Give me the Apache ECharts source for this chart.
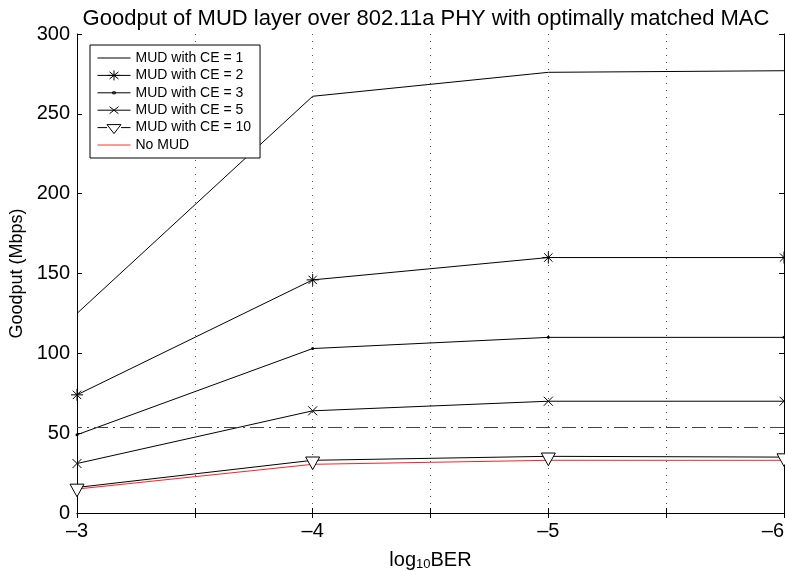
<!DOCTYPE html>
<html>
<head>
	<meta charset="utf-8">
	<title>Goodput of MUD layer</title>
	<script src="https://cdn.jsdelivr.net/npm/echarts@6/dist/echarts.min.js"></script>
	<style>
		html, body { margin: 0; padding: 0; background: #fff; }
		#chart { width: 785px; height: 571px; }
	</style>
</head>
<body>
<div id="chart"></div>
<script>
// log10 BER values (x axis runs -3 -> -6)
var logBer = [-3, -4, -5, -6];
var ce1 = [125, 261, 276, 277];
var ce2 = [74, 146, 160, 160];
var ce3 = [49, 103, 110, 110];
var ce5 = [31, 64, 70, 70];
var ce10 = [16, 33, 35.5, 35];
var noMud = [15, 30.5, 33, 33];
var refLevel = 54;   // dash-dot reference line

var names = ['MUD with CE = 1', 'MUD with CE = 2', 'MUD with CE = 3', 'MUD with CE = 5', 'MUD with CE = 10', 'No MUD'];

var FONT = 'Liberation Sans, Arial, sans-serif';
var starPath = 'path://M0,5 L10,5 M5,0 L5,10 M1.5,1.5 L8.5,8.5 M8.5,1.5 L1.5,8.5';
var crossPath = 'path://M0,0 L10,10 M10,0 L0,10';
var triPath = 'path://M0,0 L10,0 L5,9 Z';

// legend icons: line + marker, the two leading moves fix the box to 26x12
var BOX = 'path://M0,0 M26,12 ';
var legendIcons = [
	BOX + 'M0,6 L26,6',
	BOX + 'M0,6 L26,6 M13,1 L13,11 M8,6 L18,6 M9.5,2.5 L16.5,9.5 M16.5,2.5 L9.5,9.5',
	BOX + 'M0,6 L26,6 M12,5 L14,5 L14,7 L12,7 Z',
	BOX + 'M0,6 L26,6 M9.5,2.5 L16.5,9.5 M16.5,2.5 L9.5,9.5',
	BOX + 'M0,6 L7.5,6 M18.5,6 L26,6 M7.5,3 L18.5,3 L13,12 Z',
	BOX + 'M0,6 L26,6'
];
var legendColors = ['#000', '#000', '#000', '#000', '#000', '#ff3030'];

function pts(arr) {
	return logBer.map(function (x, i) { return [x, arr[i]]; });
}

function mkSeries(name, data, symbol, size, color, extra) {
	var s = {
		name: name,
		type: 'line',
		data: pts(data),
		symbol: symbol,
		symbolSize: size,
		symbolKeepAspect: true,
		showSymbol: symbol !== 'none',
		lineStyle: { color: color, width: 1 },
		itemStyle: { color: 'rgba(0,0,0,0)', borderColor: color, borderWidth: 1 },
		emphasis: { disabled: true },
		animation: false,
		z: 3
	};
	for (var k in extra) s[k] = extra[k];
	return s;
}

var chart = echarts.init(document.getElementById('chart'));

var axisCommon = {
	axisLine: { show: true, lineStyle: { color: '#000', width: 1 } },
	axisTick: { show: true, inside: true, length: 5, lineStyle: { color: '#000' } }
};

var option = {
	backgroundColor: '#fff',
	animation: false,
	title: {
		text: 'Goodput of MUD layer over 802.11a PHY with optimally matched MAC',
		left: 421,
		top: 3,
		textAlign: 'center',
		textStyle: { fontFamily: FONT, fontSize: 22, fontWeight: 'normal', color: '#000' }
	},
	legend: {
		orient: 'vertical',
		left: 90,
		top: 45,
		data: names.map(function (n, i) {
			return {
				name: n,
				icon: legendIcons[i],
				itemStyle: { color: '#fff', borderColor: legendColors[i], borderWidth: 1 }
			};
		}),
		itemWidth: 33,
		itemHeight: 12,
		itemGap: 3.4,
		symbolKeepAspect: false,
		padding: [6, 9, 6, 7],
		backgroundColor: '#fff',
		borderColor: '#000',
		borderWidth: 1,
		textStyle: { fontFamily: FONT, fontSize: 14, color: '#000' }
	},
	grid: { left: 77, right: 1, top: 34, bottom: 58, outerBoundsMode: 'none' },
	xAxis: [
		Object.assign({
			type: 'value', min: -6, max: -3, interval: 0.5, inverse: true,
			position: 'bottom',
			name: '{a|log}{s|10}{a|BER}',
			nameLocation: 'middle',
			nameGap: 36,
			nameTextStyle: {
				rich: {
					a: { fontFamily: FONT, fontSize: 20, color: '#000', lineHeight: 22 },
					s: { fontFamily: FONT, fontSize: 13, color: '#000', verticalAlign: 'bottom', lineHeight: 13, padding: [9, 0, 0, 0] }
				}
			},
			axisLabel: {
				fontFamily: FONT, fontSize: 20, color: '#000', margin: 8,
				alignMinLabel: 'right',
				formatter: function (v) {
					if (Math.abs(v - Math.round(v)) > 1e-6) return '';
					return '\u2013' + Math.abs(v);
				}
			},
			splitLine: { show: true, lineStyle: { color: '#555', type: [1, 6], width: 1 } }
		}, axisCommon),
		Object.assign({
			type: 'value', min: -6, max: -3, interval: 0.5, inverse: true,
			position: 'top',
			axisLabel: { show: false },
			splitLine: { show: false }
		}, axisCommon)
	],
	yAxis: [
		Object.assign({
			type: 'value', min: 0, max: 300, interval: 50,
			name: 'Goodput (Mbps)',
			nameLocation: 'middle',
			nameGap: 51,
			nameTextStyle: { fontFamily: FONT, fontSize: 18, color: '#000' },
			axisLabel: { fontFamily: FONT, fontSize: 20, color: '#000', margin: 7 },
			splitLine: { show: false }
		}, axisCommon),
		Object.assign({
			type: 'value', min: 0, max: 300, interval: 50,
			position: 'right',
			axisLabel: { show: false },
			splitLine: { show: false }
		}, axisCommon)
	],
	series: [
		mkSeries(names[0], ce1, 'none', 0, '#000', {
			markLine: {
				silent: true,
				symbol: 'none',
				label: { show: false },
				lineStyle: { color: '#444', width: 1, type: [14, 5, 2, 5] },
				data: [{ yAxis: refLevel }]
			}
		}),
		mkSeries(names[1], ce2, starPath, 12, '#000'),
		mkSeries(names[2], ce3, 'circle', 3, '#000', { itemStyle: { color: '#000', borderColor: '#000', borderWidth: 0 } }),
		mkSeries(names[3], ce5, crossPath, 9, '#000'),
		mkSeries(names[4], ce10, triPath, 14, '#000', { itemStyle: { color: '#fff', borderColor: '#000', borderWidth: 1 }, symbolOffset: [0, 3] }),
		mkSeries(names[5], noMud, 'none', 0, '#ff2020', { z: 2 })
	]
};

chart.setOption(option);
</script>
</body>
</html>
